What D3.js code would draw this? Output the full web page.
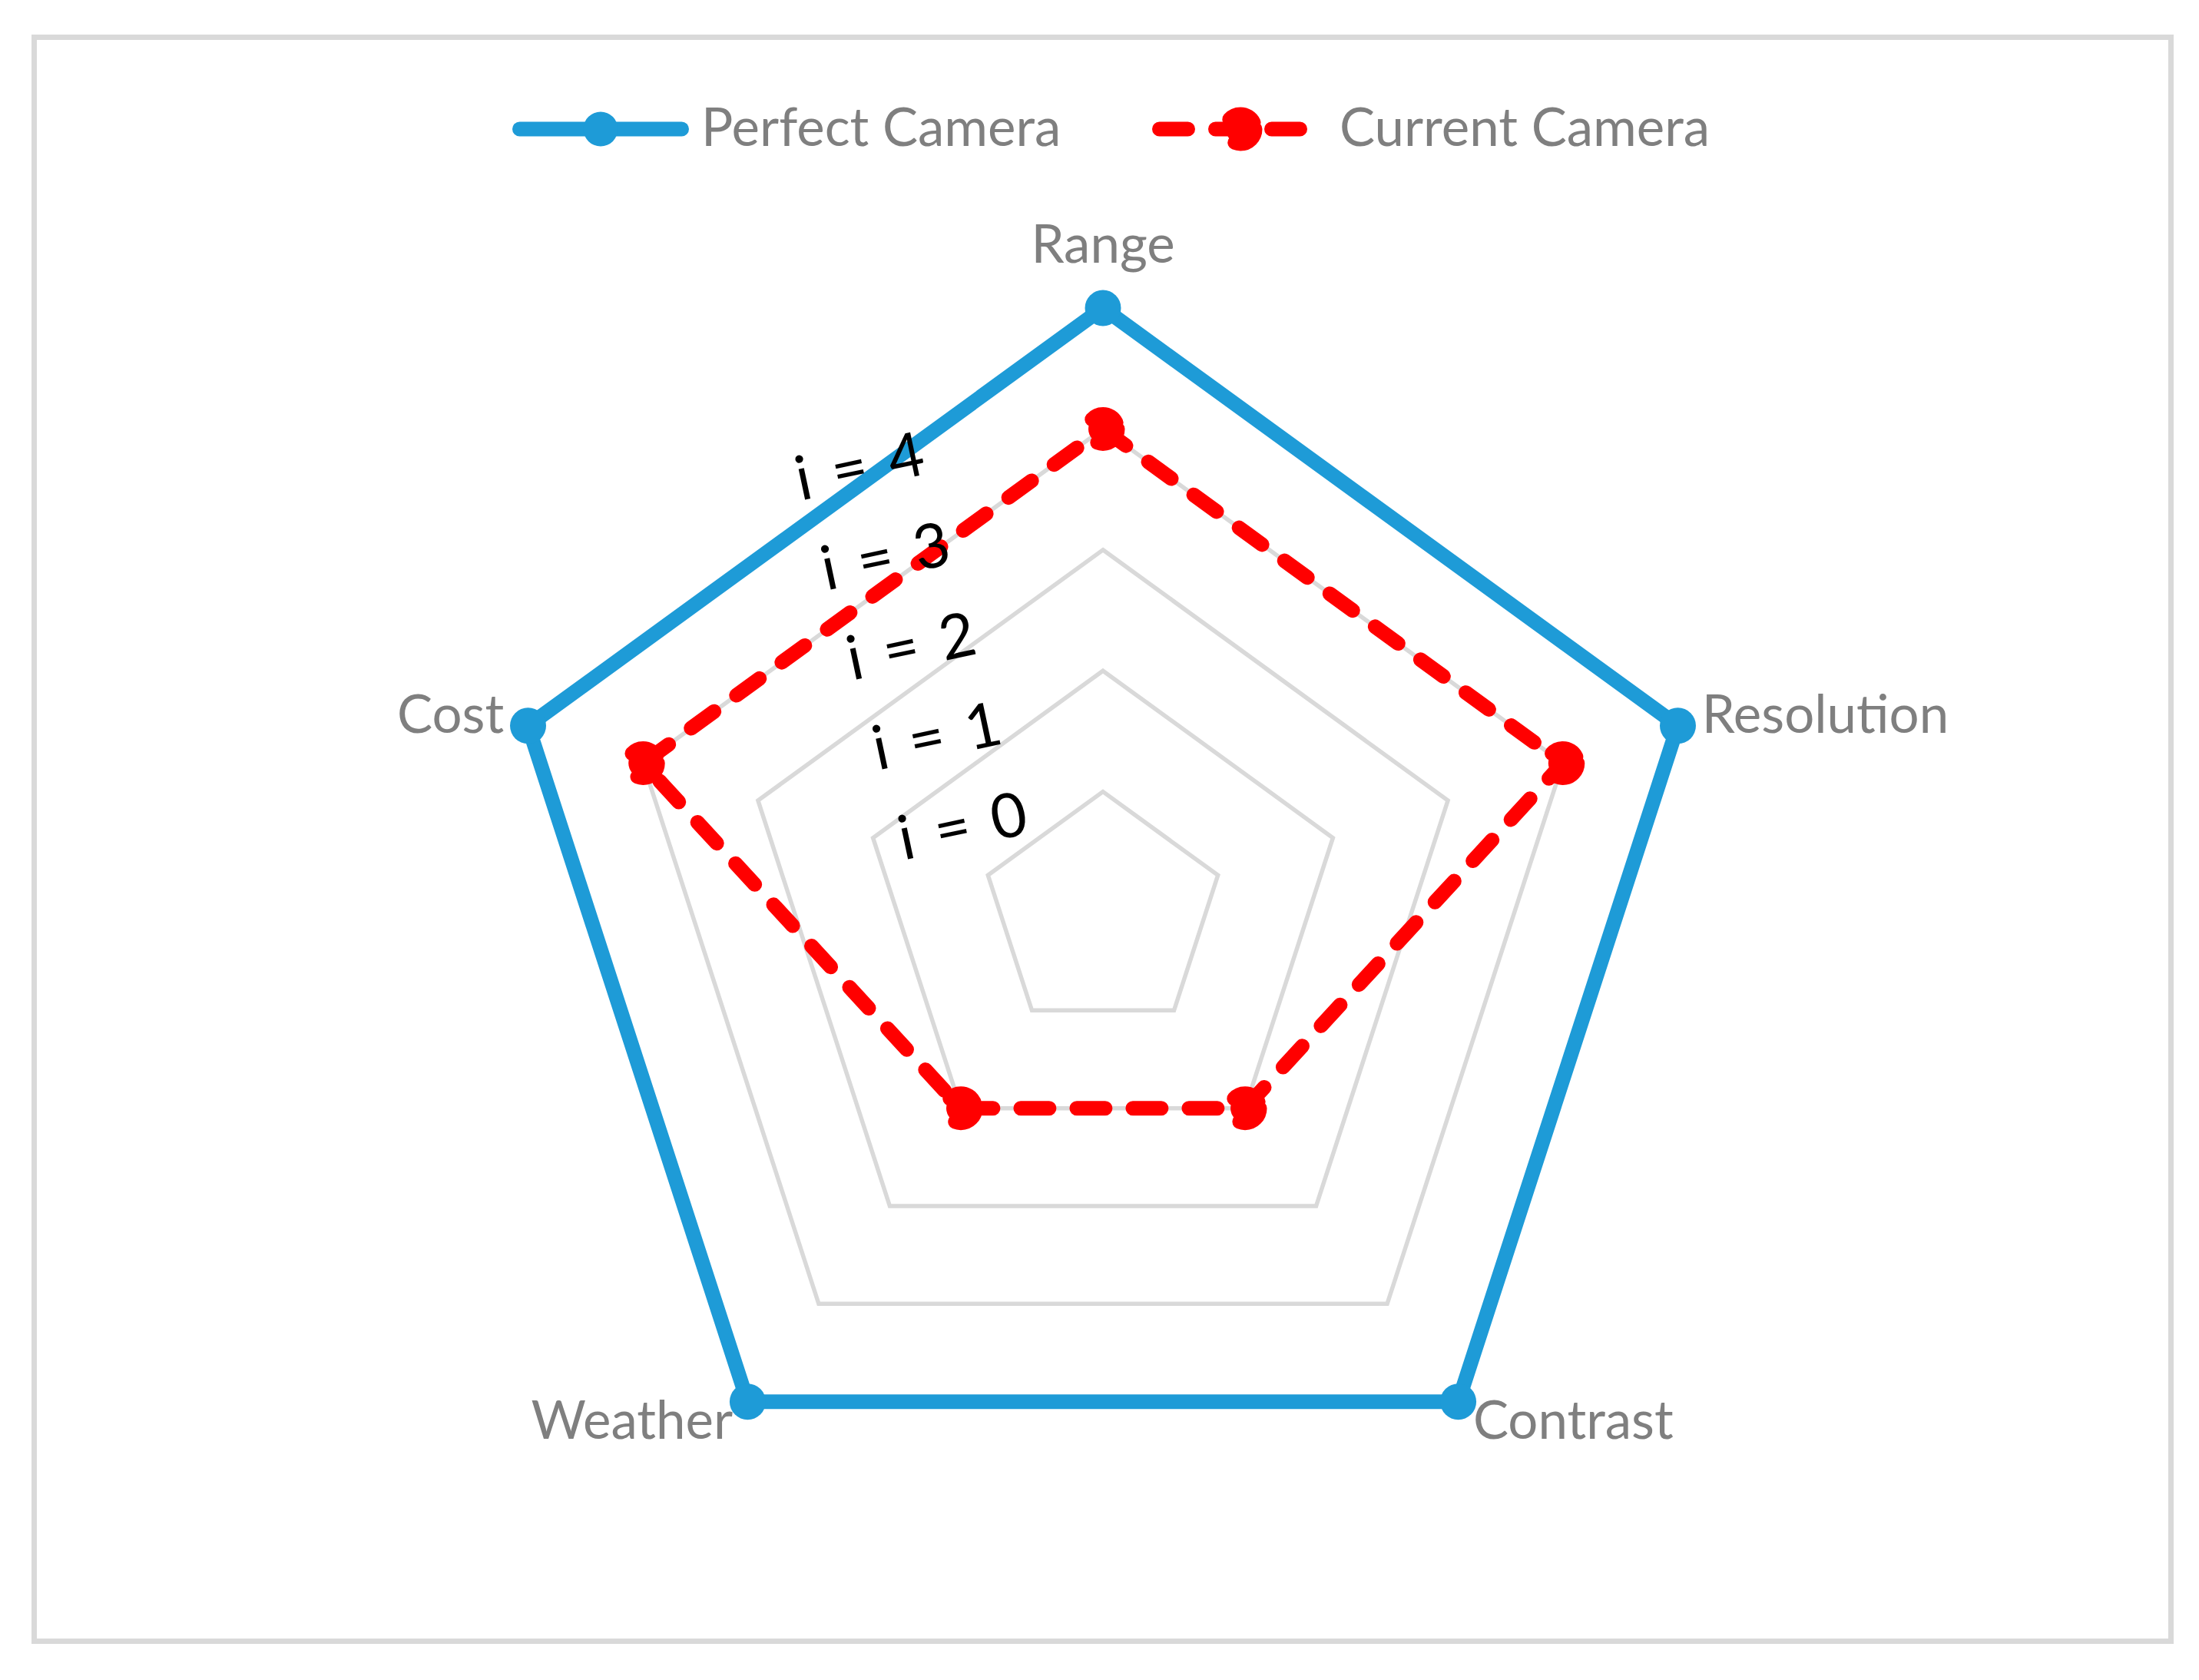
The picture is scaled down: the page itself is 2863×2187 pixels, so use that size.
<!DOCTYPE html>
<html>
<head>
<meta charset="utf-8">
<script src="https://cdn.jsdelivr.net/npm/d3@7"></script>
<style>
  body { margin: 0; background: #fff; }
  text { font-family: Lato, "Open Sans", sans-serif; }
</style>
</head>
<body>
<div id="chart"></div>
<script>
// Data
const categories = ["Range", "Resolution", "Contrast", "Weather", "Cost"];
const perfectCamera = [4, 4, 4, 4, 4];
const currentCamera = [3, 3, 1, 1, 3];
const tickValues = [0, 1, 2, 3, 4];
const tickLabels = ["i = 0", "i = 1", "i = 2", "i = 3", "i = 4"];
const seriesNames = ["Perfect Camera", "Current Camera"];

// Setup
const width = 2863;
const height = 2187;
const cx = 1436;
const cy = 1188;
const blue = "#1e9bd7";
const red = "#ff0000";
const grey = "#7f7f7f";
const dash = "37 36";

const svg = d3.select("#chart")
              .append("svg")
              .attr("width", width)
              .attr("height", height);

// chart frame
svg.append("rect")
   .attr("x", 44.5)
   .attr("y", 48.5)
   .attr("width", 2782)
   .attr("height", 2088)
   .attr("fill", "#fff")
   .attr("stroke", "#d9d9d9")
   .attr("stroke-width", 7);

const r = d3.scaleLinear().domain([-1, 4]).range([0, 787]);
const angle = d3.scalePoint()
                .domain(categories)
                .range([0, 2 * Math.PI * (categories.length - 1) / categories.length]);

const g = svg.append("g").attr("transform", `translate(${cx},${cy})`);

const radial = d3.lineRadial()
                 .angle(d => angle(d.cat))
                 .radius(d => r(d.v))
                 .curve(d3.curveLinearClosed);

// grid rings
g.append("g")
 .selectAll("path")
 .data(tickValues)
 .enter().append("path")
   .attr("d", t => radial(categories.map(c => ({cat: c, v: t}))))
   .attr("fill", "none")
   .attr("stroke", "#d9d9d9")
   .attr("stroke-width", 5.5);

const pt = (cat, v) => {
  const a = angle(cat);
  return [Math.sin(a) * r(v), -Math.cos(a) * r(v)];
};

const series = [
  {name: seriesNames[0], values: perfectCamera, color: blue, dashed: false},
  {name: seriesNames[1], values: currentCamera, color: red, dashed: true}
];

series.forEach(s => {
  const pts = categories.map((c, i) => ({cat: c, v: s.values[i]}));
  g.append("path")
   .attr("d", radial(pts))
   .attr("fill", "none")
   .attr("stroke", s.color)
   .attr("stroke-width", 19)
   .attr("stroke-linecap", "round")
   .attr("stroke-linejoin", "round")
   .attr("stroke-dasharray", s.dashed ? dash : null);

  g.append("g")
   .selectAll("circle")
   .data(pts)
   .enter().append("circle")
     .attr("cx", d => pt(d.cat, d.v)[0])
     .attr("cy", d => pt(d.cat, d.v)[1])
     .attr("r", s.dashed ? 19 : 23.5)
     .attr("fill", s.color)
     .attr("stroke", s.dashed ? s.color : "none")
     .attr("stroke-width", s.dashed ? 19 : 0)
     .attr("stroke-dasharray", s.dashed ? dash : null)
     .attr("stroke-linecap", "round");
});

// category labels
g.append("g")
 .selectAll("text")
 .data(categories)
 .enter().append("text")
   .attr("x", c => Math.sin(angle(c)) * (r(4) + 33))
   .attr("y", c => {
     const y = -Math.cos(angle(c)) * (r(4) + 35);
     return Math.cos(angle(c)) > 0.9 ? y - 24 : y + 20;
   })
   .attr("text-anchor", c => {
     const s = Math.sin(angle(c));
     return Math.abs(s) < 0.1 ? "middle" : (s > 0 ? "start" : "end");
   })
   .attr("fill", grey)
   .style("font-size", "69px")
   .text(c => c);

// value axis labels
const lx = d3.scaleLinear().domain([0, 4]).range([cx - 183, cx - 317]);
const ly = d3.scaleLinear().domain([0, 4]).range([cy - 114, cy - 582]);

svg.append("g")
   .selectAll("text")
   .data(tickValues)
   .enter().append("text")
     .attr("transform", t => `translate(${lx(t)},${ly(t)}) rotate(-12)`)
     .attr("text-anchor", "middle")
     .attr("dy", "0.36em")
     .attr("fill", "#000")
     .style("font-size", "80px")
     .style("word-spacing", "8px")
     .text((t, i) => tickLabels[i]);

// legend
const legendItems = [
  {x0: 667, x1: 897, mx: 782, tx: 913},
  {x0: 1500, x1: 1708, mx: 1615, tx: 1744}
];
const legend = svg.append("g");
series.forEach((s, i) => {
  const L = legendItems[i];
  legend.append("line")
        .attr("x1", L.x0 + 9.5).attr("x2", L.x1 - 9.5)
        .attr("y1", 168).attr("y2", 168)
        .attr("stroke", s.color)
        .attr("stroke-width", 19)
        .attr("stroke-linecap", "round")
        .attr("stroke-dasharray", s.dashed ? dash : null);
  legend.append("circle")
        .attr("cx", L.mx).attr("cy", 168)
        .attr("r", s.dashed ? 19 : 22.5)
        .attr("fill", s.color)
        .attr("stroke", s.dashed ? s.color : "none")
        .attr("stroke-width", s.dashed ? 19 : 0)
        .attr("stroke-dasharray", s.dashed ? dash : null)
        .attr("stroke-linecap", "round");
  legend.append("text")
        .attr("x", L.tx)
        .attr("y", 190)
        .attr("fill", grey)
        .style("font-size", "69px")
        .text(s.name);
});
</script>
</body>
</html>
